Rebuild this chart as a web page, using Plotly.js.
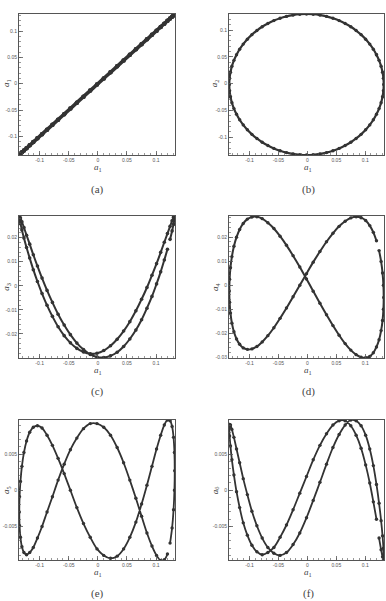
<!DOCTYPE html>
<html><head><meta charset="utf-8">
<script src="https://cdn.plot.ly/plotly-3.0.1.min.js"></script>
<style>html,body{margin:0;padding:0;background:#fff;}#chart{width:386px;height:601px;}</style>
</head><body><div id="chart"></div>
<script>
// POD coefficient samples along one shedding period
const a1 = [0.1195,0.1141,0.1079,0.1008,0.0929,0.0843,0.0751,0.0653,0.0549,0.0442,0.0331,0.0217,0.0101,-0.0015,-0.0131,-0.0247,-0.0361,-0.0472,-0.0579,-0.0683,-0.0781,-0.0873,-0.0959,-0.1038,-0.1109,-0.1171,-0.1225,-0.1270,-0.1305,-0.1330,-0.1345,-0.1350,
-0.1345,-0.1330,-0.1305,-0.1270,-0.1225,-0.1171,-0.1109,-0.1038,-0.0959,-0.0873,-0.0781,-0.0683,-0.0579,-0.0472,-0.0361,-0.0247,-0.0131,-0.0015,0.0101,0.0217,0.0331,0.0442,0.0549,0.0653,0.0751,0.0843,0.0929,0.1008,0.1079,0.1141,0.1195,0.1240,0.1275,0.1300,0.1315,0.1320,
0.1315,0.1300,0.1275,0.1240];
const a2 = [0.0541,0.0643,0.0739,0.0830,0.0915,0.0992,0.1062,0.1124,0.1177,0.1221,0.1255,0.1280,0.1295,0.1300,0.1295,0.1280,0.1255,0.1221,0.1177,0.1124,0.1062,0.0992,0.0915,0.0830,0.0739,0.0643,0.0541,0.0435,0.0325,0.0213,0.0100,-0.0015,
-0.0130,-0.0243,-0.0355,-0.0465,-0.0571,-0.0673,-0.0769,-0.0860,-0.0945,-0.1022,-0.1092,-0.1154,-0.1207,-0.1251,-0.1285,-0.1310,-0.1325,-0.1330,-0.1325,-0.1310,-0.1285,-0.1251,-0.1207,-0.1154,-0.1092,-0.1022,-0.0945,-0.0860,-0.0769,-0.0673,-0.0571,-0.0465,-0.0355,-0.0243,-0.0130,-0.0015,
0.0100,0.0213,0.0325,0.0435];
const a3 = [0.0152,0.0107,0.0058,0.0008,-0.0044,-0.0093,-0.0141,-0.0184,-0.0221,-0.0252,-0.0276,-0.0291,-0.0298,-0.0296,-0.0285,-0.0265,-0.0238,-0.0203,-0.0163,-0.0118,-0.0069,-0.0019,0.0032,0.0082,0.0129,0.0173,0.0210,0.0242,0.0266,0.0282,0.0289,0.0288,
0.0277,0.0259,0.0232,0.0199,0.0159,0.0115,0.0067,0.0018,-0.0032,-0.0081,-0.0127,-0.0170,-0.0207,-0.0237,-0.0260,-0.0275,-0.0282,-0.0280,-0.0269,-0.0249,-0.0222,-0.0188,-0.0149,-0.0104,-0.0056,-0.0007,0.0044,0.0092,0.0139,0.0181,0.0217,0.0247,0.0270,0.0285,0.0290,0.0288,
0.0276,0.0256,0.0228,0.0193];
const a4 = [0.0185,0.0220,0.0248,0.0269,0.0281,0.0285,0.0280,0.0266,0.0245,0.0216,0.0181,0.0140,0.0096,0.0048,0.0000,-0.0048,-0.0095,-0.0138,-0.0177,-0.0210,-0.0236,-0.0255,-0.0265,-0.0267,-0.0261,-0.0246,-0.0224,-0.0194,-0.0158,-0.0116,-0.0071,-0.0024,
0.0025,0.0073,0.0119,0.0162,0.0200,0.0232,0.0257,0.0275,0.0284,0.0285,0.0277,0.0260,0.0236,0.0204,0.0166,0.0123,0.0076,0.0026,-0.0025,-0.0075,-0.0123,-0.0168,-0.0208,-0.0243,-0.0270,-0.0289,-0.0300,-0.0302,-0.0296,-0.0281,-0.0257,-0.0227,-0.0189,-0.0147,-0.0100,-0.0051,
0.0000,0.0051,0.0099,0.0144];
const a5 = [-0.0088,-0.0096,-0.0097,-0.0090,-0.0077,-0.0059,-0.0036,-0.0011,0.0014,0.0038,0.0059,0.0076,0.0087,0.0092,0.0092,0.0085,0.0072,0.0056,0.0036,0.0014,-0.0009,-0.0030,-0.0050,-0.0066,-0.0079,-0.0086,-0.0089,-0.0086,-0.0078,-0.0065,-0.0049,-0.0030,
-0.0009,0.0012,0.0033,0.0052,0.0068,0.0080,0.0087,0.0089,0.0086,0.0076,0.0062,0.0044,0.0023,0.0000,-0.0024,-0.0046,-0.0065,-0.0081,-0.0090,-0.0094,-0.0091,-0.0081,-0.0065,-0.0044,-0.0019,0.0007,0.0033,0.0057,0.0076,0.0090,0.0097,0.0096,0.0088,0.0073,0.0052,0.0027,
0.0000,-0.0027,-0.0052,-0.0073];
const a6 = [-0.0040,-0.0016,0.0010,0.0035,0.0058,0.0076,0.0089,0.0096,0.0096,0.0090,0.0078,0.0062,0.0042,0.0019,-0.0004,-0.0027,-0.0048,-0.0065,-0.0079,-0.0086,-0.0089,-0.0085,-0.0076,-0.0062,-0.0045,-0.0024,-0.0002,0.0021,0.0042,0.0061,0.0075,0.0086,
0.0091,0.0090,0.0084,0.0073,0.0057,0.0038,0.0016,-0.0006,-0.0029,-0.0049,-0.0066,-0.0079,-0.0087,-0.0090,-0.0086,-0.0075,-0.0059,-0.0038,-0.0014,0.0011,0.0036,0.0059,0.0077,0.0090,0.0097,0.0096,0.0089,0.0076,0.0057,0.0034,0.0008,-0.0018,-0.0042,-0.0063,-0.0080,-0.0091,
-0.0095,-0.0092,-0.0082,-0.0066];

// tick labels
const tickA1Vals = [-0.1,-0.05,0,0.05,0.1];
const tickA1Text = ['-0.1','-0.05','0','0.05','0.1'];
const tickA3Vals = [-0.02,-0.01,0,0.01,0.02];
const tickA3Text = ['-0.02','-0.01','0','0.01','0.02'];
const tickA4Vals = [-0.03,-0.02,-0.01,0,0.01,0.02];
const tickA4Text = ['-0.03','-0.02','-0.01','0','0.01','0.02'];
const tickA56Vals = [-0.005,0,0.005];
const tickA56Text = ['-0.005','0','0.005'];
const panelLabels = ['(a)','(b)','(c)','(d)','(e)','(f)'];
const ySubs = ['1','2','3','4','5','6'];

const ink = '#333';
const tickFont = {family:'Liberation Sans, Arial, sans-serif', size:5, color:'#555'};

function axis(domain, range, vals, text, minorStep, anchor) {
  return {
    domain: domain, range: range, anchor: anchor,
    tickmode: 'array', tickvals: vals, ticktext: text,
    ticks: 'inside', ticklen: 4, tickwidth: 0.8, tickcolor: '#555',
    showline: true, linecolor: '#555', linewidth: 1, mirror: true,
    showgrid: false, zeroline: false, tickfont: tickFont,
    minor: {tickmode: 'linear', tick0: 0, dtick: minorStep, ticks: 'inside', ticklen: 2, tickwidth: 0.6, tickcolor: '#555', showgrid: false},
    fixedrange: true
  };
}

const colX = [[0.0492, 0.4534], [0.5933, 0.9948]];
const rowY = [[0.7421, 0.9767], [0.4043, 0.6406], [0.0674, 0.3012]];
const xRange = [-0.1355, 0.1325];

function trace(x, y, i, lwidth, msize) {
  return {
    x: x, y: y, type: 'scatter', mode: 'lines+markers',
    xaxis: i === 1 ? 'x' : 'x' + i, yaxis: i === 1 ? 'y' : 'y' + i,
    line: {color: ink, width: lwidth, shape: 'spline', smoothing: 1},
    marker: {size: msize, color: ink, symbol: 'circle'},
    showlegend: false, hoverinfo: 'skip'
  };
}

// (b) is drawn as a closed orbit
const data = [
  trace(a1, a1, 1, 3.6, 4.5),
  trace(a1.concat([a1[0]]), a2.concat([a2[0]]), 2, 2.2, 3.4),
  trace(a1, a3, 3, 2.0, 3.6),
  trace(a1, a4, 4, 2.0, 3.4),
  trace(a1, a5, 5, 1.8, 3.4),
  trace(a1, a6, 6, 1.8, 3.4)
];

const layout = {
  width: 386, height: 601,
  margin: {l: 0, r: 0, t: 0, b: 0},
  paper_bgcolor: '#fff', plot_bgcolor: '#fff',
  showlegend: false,
  xaxis:  axis(colX[0], xRange, tickA1Vals, tickA1Text, 0.01, 'y'),
  yaxis:  axis(rowY[0], [-0.1355, 0.1325], tickA1Vals, tickA1Text, 0.01, 'x'),
  xaxis2: axis(colX[1], xRange, tickA1Vals, tickA1Text, 0.01, 'y2'),
  yaxis2: axis(rowY[0], [-0.133, 0.130], tickA1Vals, tickA1Text, 0.01, 'x2'),
  xaxis3: axis(colX[0], xRange, tickA1Vals, tickA1Text, 0.01, 'y3'),
  yaxis3: axis(rowY[1], [-0.0300, 0.0290], tickA3Vals, tickA3Text, 0.002, 'x3'),
  xaxis4: axis(colX[1], xRange, tickA1Vals, tickA1Text, 0.01, 'y4'),
  yaxis4: axis(rowY[1], [-0.0303, 0.0288], tickA4Vals, tickA4Text, 0.002, 'x4'),
  xaxis5: axis(colX[0], xRange, tickA1Vals, tickA1Text, 0.01, 'y5'),
  yaxis5: axis(rowY[2], [-0.0097, 0.0097], tickA56Vals, tickA56Text, 0.001, 'x5'),
  xaxis6: axis(colX[1], xRange, tickA1Vals, tickA1Text, 0.01, 'y6'),
  yaxis6: axis(rowY[2], [-0.0097, 0.0097], tickA56Vals, tickA56Text, 0.001, 'x6'),
  annotations: []
};

const titleFont = {family: 'Liberation Serif, Times New Roman, serif', size: 9, color: '#444'};
const labelFont = {family: 'Liberation Serif, Times New Roman, serif', size: 11, color: '#444'};
const colCenter = [0.2527, 0.798];
const yTitleX = [0.0185, 0.558];
const xTitleY = [1 - 168/601, 1 - 370/601, 1 - 572/601];
const yTitleY = [0.862, 0.523, 0.185];
const labelY = [0.6847, 0.3478, 0.0133];

for (let i = 0; i < 6; i++) {
  const col = i % 2, row = Math.floor(i / 2);
  layout.annotations.push({
    xref: 'paper', yref: 'paper', x: colCenter[col], y: xTitleY[row],
    text: '<i>a</i><sub>1</sub>', showarrow: false, font: titleFont,
    xanchor: 'center', yanchor: 'middle', borderpad: 0
  });
  layout.annotations.push({
    xref: 'paper', yref: 'paper', x: yTitleX[col], y: yTitleY[row],
    text: '<i>a</i><sub>' + ySubs[i] + '</sub>', showarrow: false, font: titleFont,
    textangle: -90, xanchor: 'center', yanchor: 'middle', borderpad: 0
  });
  layout.annotations.push({
    xref: 'paper', yref: 'paper', x: colCenter[col], y: labelY[row],
    text: panelLabels[i], showarrow: false, font: labelFont,
    xanchor: 'center', yanchor: 'middle'
  });
}

Plotly.newPlot('chart', data, layout, {displayModeBar: false, staticPlot: true});
</script>
</body></html>
